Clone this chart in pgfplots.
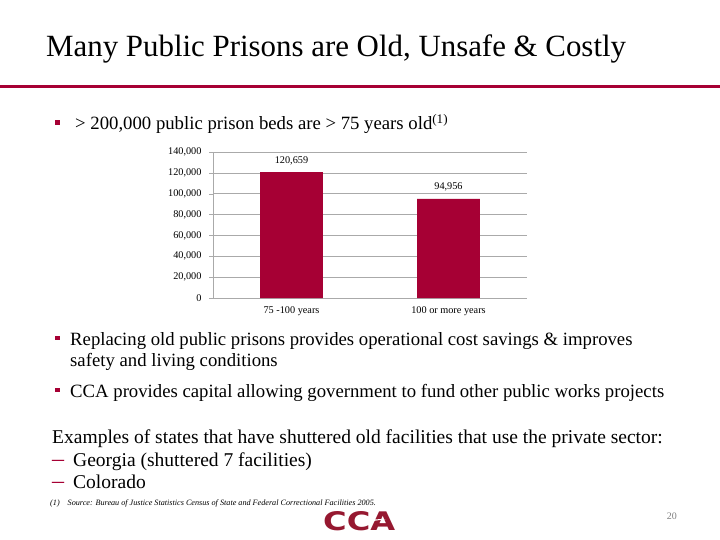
\documentclass[border=0pt]{standalone}
\usepackage{pgfplots}
\pgfplotsset{compat=1.18}
\usepackage{graphicx}
\usepackage{fontspec}
\setmainfont{Liberation Serif}
\newfontfamily\logofont{DejaVu Sans}
\definecolor{crimson}{RGB}{166,0,52}
\definecolor{logored}{RGB}{150,24,48}
\definecolor{gridgray}{RGB}{170,170,170}
\begin{document}
\begin{tikzpicture}[x=1bp,y=-1bp]
\fill[white] (0,0) rectangle (720,540);
% title
\node[anchor=base west,inner sep=0pt,font=\fontsize{31}{36}\selectfont] at (46,57) {Many Public Prisons are Old, Unsafe \& Costly};
\fill[crimson] (0,85) rectangle (720,88);
% first bullet
\fill[crimson] (55,120.5) rectangle (59.5,125);
\node[anchor=base west,inner sep=0pt,font=\fontsize{18.8}{22}\selectfont] at (75,130) {> 200,000 public prison beds are > 75 years old\textsuperscript{(1)}};
% chart
\begin{axis}[
  at={(213bp,-298bp)}, anchor=south west,
  width=314bp, height=146bp, scale only axis,
  xmin=-0.5, xmax=1.5, ymin=0, ymax=140000,
  ytick={0,20000,...,140000},
  xtick={0,1},
  xticklabels={75 -100 years, 100 or more years},
  x tick style={draw=none},
  extra x ticks={-0.5,0.5,1.5},
  extra x tick labels={},
  extra x tick style={tick style={draw=gridgray}, major tick length=4bp, tick align=outside, grid=none},
  ymajorgrids, grid style={gridgray, line width=0.6pt},
  y tick style={draw=gridgray}, major tick length=4bp, tick align=outside,
  axis lines*=left, axis line style={gridgray, line width=0.6pt},
  ticklabel style={font=\fontsize{10.3}{12}\selectfont},
  y tick label style={xshift=-4bp, /pgf/number format/.cd, fixed, 1000 sep={,}, assume math mode=true},
  x tick label style={yshift=-1bp},
  scaled y ticks=false,
  ybar, bar width=0.4,
  nodes near coords,
  nodes near coords style={font=\fontsize{10.3}{12}\selectfont, yshift=4bp},
  every node near coord/.append style={/pgf/number format/.cd, fixed, 1000 sep={,}, assume math mode=true},
  clip=false,
]
\addplot[fill=crimson, draw=none] coordinates {(0,120659) (1,94956)};
\end{axis}
% lower bullets
\fill[crimson] (55,335.5) rectangle (59.5,340);
\node[anchor=base west,inner sep=0pt,font=\fontsize{18.8}{22}\selectfont] at (70,345) {Replacing old public prisons provides operational cost savings \& improves};
\node[anchor=base west,inner sep=0pt,font=\fontsize{18.8}{22}\selectfont] at (70,366) {safety and living conditions};
\fill[crimson] (55,387.5) rectangle (59.5,392);
\node[anchor=base west,inner sep=0pt,font=\fontsize{18.8}{22}\selectfont] at (70,397) {CCA provides capital allowing government to fund other public works projects};
% examples
\node[anchor=base west,inner sep=0pt,font=\fontsize{19.6}{23}\selectfont] at (52,443) {Examples of states that have shuttered old facilities that use the private sector:};
\node[anchor=base west,inner sep=0pt,font=\fontsize{19.6}{23}\selectfont,crimson] at (52,466) {\resizebox{12bp}{!}{--}};
\node[anchor=base west,inner sep=0pt,font=\fontsize{19.6}{23}\selectfont] at (73,466) {Georgia (shuttered 7 facilities)};
\node[anchor=base west,inner sep=0pt,font=\fontsize{19.6}{23}\selectfont,crimson] at (52,488) {\resizebox{12bp}{!}{--}};
\node[anchor=base west,inner sep=0pt,font=\fontsize{19.6}{23}\selectfont] at (73,488) {Colorado};
% footnote
\node[anchor=base west,inner sep=0pt,font=\fontsize{8.2}{10}\selectfont\itshape] at (50,505) {(1)\hspace{8bp}Source: Bureau of Justice Statistics Census of State and Federal Correctional Facilities 2005.};
% logo and page number
\node[anchor=north west,inner sep=0pt,logored] at (323,511) {\resizebox{72bp}{19bp}{\logofont\bfseries CCA}};
\fill[white] (370,519.5) -- (386,519) -- (370,521.5) -- cycle;
\node[anchor=base east,inner sep=0pt,font=\fontsize{10}{12}\selectfont,gray] at (677,519) {20};
\end{tikzpicture}
\end{document}
